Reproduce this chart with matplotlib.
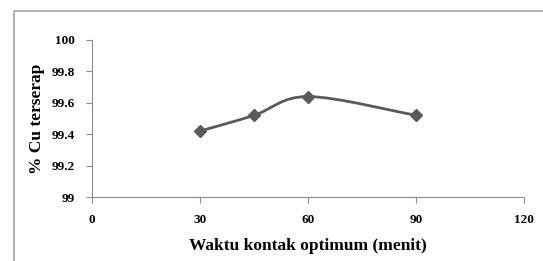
import matplotlib
matplotlib.use("Agg")
import matplotlib.pyplot as plt
from matplotlib.path import Path
from matplotlib.patches import PathPatch
from matplotlib.lines import Line2D

waktu = [30, 45, 60, 90]
cu_terserap = [99.42, 99.52, 99.64, 99.52]
x_ticks = [0, 30, 60, 90, 120]
y_ticks = [99, 99.2, 99.4, 99.6, 99.8, 100]
y_tick_labels = ["99", "99.2", "99.4", "99.6", "99.8", "100"]

plt.rcParams["font.family"] = ["Liberation Serif", "DejaVu Serif"]

W, H = 543, 261
fig = plt.figure(figsize=(W / 100, H / 100), dpi=100)
ax = fig.add_axes([92 / W, 1 - 197 / H, (524 - 92) / W, (197 - 40) / H])

# smoothed line like Excel (Catmull-Rom as cubic beziers)
verts = [(waktu[0], cu_terserap[0])]
codes = [Path.MOVETO]
n = len(waktu)
for i in range(n - 1):
    p0 = (waktu[max(i - 1, 0)], cu_terserap[max(i - 1, 0)])
    p1 = (waktu[i], cu_terserap[i])
    p2 = (waktu[i + 1], cu_terserap[i + 1])
    p3 = (waktu[min(i + 2, n - 1)], cu_terserap[min(i + 2, n - 1)])
    c1 = (p1[0] + (p2[0] - p0[0]) / 6, p1[1] + (p2[1] - p0[1]) / 6)
    c2 = (p2[0] - (p3[0] - p1[0]) / 6, p2[1] - (p3[1] - p1[1]) / 6)
    verts += [c1, c2, p2]
    codes += [Path.CURVE4] * 3
ax.add_patch(PathPatch(Path(verts, codes), facecolor="none",
                       edgecolor="#5a5a5a", linewidth=2.0, zorder=2))
ax.plot(waktu, cu_terserap, linestyle="none", marker="D", markersize=6,
        color="#5a5a5a", zorder=3)

ax.set_xlim(0, 120)
ax.set_ylim(99, 100)
ax.set_xticks(x_ticks)
ax.set_yticks(y_ticks)
ax.set_yticklabels(y_tick_labels)
for s in ["top", "right"]:
    ax.spines[s].set_visible(False)
for s in ["left", "bottom"]:
    ax.spines[s].set_color("#8c8c8c")
    ax.spines[s].set_linewidth(0.8)
ax.tick_params(direction="out", length=4, color="#8c8c8c", width=0.8,
               labelsize=9.5, pad=8)
for lab in ax.get_xticklabels() + ax.get_yticklabels():
    lab.set_fontweight("bold")
ax.set_xlabel("Waktu kontak optimum (menit)", fontsize=12.5, fontweight="bold",
              labelpad=9)
ax.set_ylabel("% Cu terserap", fontsize=12.5, fontweight="bold", labelpad=5)

# outer chart border (only left and top visible in crop)
fig.add_artist(Line2D([14 / W, 14 / W, 1], [0, 1 - 11 / H, 1 - 11 / H],
                      transform=fig.transFigure, color="#a6a6a6", linewidth=1.2))

fig.savefig("out.png", dpi=100)
